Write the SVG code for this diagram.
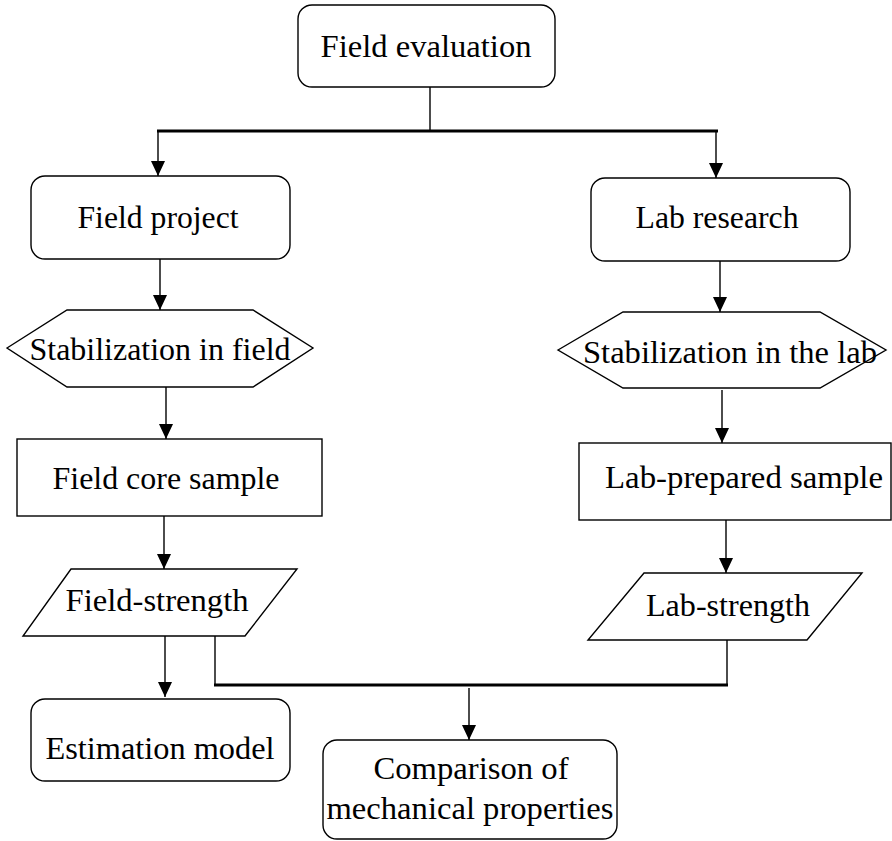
<svg xmlns="http://www.w3.org/2000/svg" width="892" height="841" viewBox="0 0 892 841">
<defs>
<marker id="ah" viewBox="0 0 15 14" refX="15" refY="7" markerWidth="15" markerHeight="14" markerUnits="userSpaceOnUse" orient="auto">
<path d="M0,0 L15,7 L0,14 Z" fill="#000"/>
</marker>
<style>
.n{fill:#fff;stroke:#000;stroke-width:1.4}
.t{font-family:"Liberation Serif","DejaVu Serif",serif;font-size:32px;fill:#000;text-anchor:middle}
.c{fill:none;stroke:#000;stroke-width:1.4}
.b{fill:none;stroke:#000;stroke-width:3}
</style>
</defs>
<rect width="892" height="841" fill="#fff"/>
<g id="connectors">
<line class="c" x1="430" y1="87" x2="430" y2="131"/>
<line class="b" x1="157" y1="131" x2="718" y2="131"/>
<line class="c" x1="158" y1="131" x2="158" y2="176" marker-end="url(#ah)"/>
<line class="c" x1="716" y1="131" x2="716" y2="178" marker-end="url(#ah)"/>
<line class="c" x1="160" y1="259" x2="160" y2="310" marker-end="url(#ah)"/>
<line class="c" x1="720" y1="261" x2="720" y2="312" marker-end="url(#ah)"/>
<line class="c" x1="166" y1="387" x2="166" y2="439" marker-end="url(#ah)"/>
<line class="c" x1="722" y1="390" x2="722" y2="443" marker-end="url(#ah)"/>
<line class="c" x1="164" y1="516" x2="164" y2="569" marker-end="url(#ah)"/>
<line class="c" x1="726" y1="520" x2="726" y2="573" marker-end="url(#ah)"/>
<line class="c" x1="165" y1="636" x2="165" y2="697" marker-end="url(#ah)"/>
<polyline class="c" points="215,636 215,685"/>
<polyline class="c" points="727,640 727,685"/>
<line class="b" x1="214" y1="685" x2="728" y2="685"/>
<line class="c" x1="469" y1="688" x2="469" y2="740" marker-end="url(#ah)"/>
</g>
<g id="field-evaluation">
<rect class="n" x="298" y="5" width="257" height="82" rx="14"/>
<text class="t" x="426" y="57" textLength="211" lengthAdjust="spacingAndGlyphs">Field evaluation</text>
</g>
<g id="field-project">
<rect class="n" x="31" y="176" width="259" height="83" rx="14"/>
<text class="t" x="158" y="228" textLength="161" lengthAdjust="spacingAndGlyphs">Field project</text>
</g>
<g id="lab-research">
<rect class="n" x="591" y="178" width="259" height="83" rx="14"/>
<text class="t" x="717" y="228" textLength="163" lengthAdjust="spacingAndGlyphs">Lab research</text>
</g>
<g id="stabilization-field">
<polygon class="n" points="7,348 67,310 253,310 313,348 253,387 67,387"/>
<text class="t" x="160" y="360" textLength="261" lengthAdjust="spacingAndGlyphs">Stabilization in field</text>
</g>
<g id="stabilization-lab">
<polygon class="n" points="558,350 623,312 820,312 886,350 820,388 623,388"/>
<text class="t" x="730" y="363" textLength="294" lengthAdjust="spacingAndGlyphs">Stabilization in the lab</text>
</g>
<g id="field-core-sample">
<rect class="n" x="17" y="439" width="305" height="77"/>
<text class="t" x="166" y="489" textLength="227" lengthAdjust="spacingAndGlyphs">Field core sample</text>
</g>
<g id="lab-prepared-sample">
<rect class="n" x="579" y="443" width="312" height="77"/>
<text class="t" x="744" y="488" textLength="278" lengthAdjust="spacingAndGlyphs">Lab-prepared sample</text>
</g>
<g id="field-strength">
<polygon class="n" points="71,569 297,569 245,636 23,636"/>
<text class="t" x="157" y="611" textLength="183" lengthAdjust="spacingAndGlyphs">Field-strength</text>
</g>
<g id="lab-strength">
<polygon class="n" points="644,573 862,573 807,640 588,640"/>
<text class="t" x="728" y="616" textLength="164" lengthAdjust="spacingAndGlyphs">Lab-strength</text>
</g>
<g id="estimation-model">
<rect class="n" x="31" y="699" width="259" height="82" rx="14"/>
<text class="t" x="160" y="759" textLength="229" lengthAdjust="spacingAndGlyphs">Estimation model</text>
</g>
<g id="comparison">
<rect class="n" x="323" y="740" width="294" height="99" rx="14"/>
<text class="t" x="471" y="779" textLength="195" lengthAdjust="spacingAndGlyphs">Comparison of</text>
<text class="t" x="470" y="819" textLength="287" lengthAdjust="spacingAndGlyphs">mechanical properties</text>
</g>
</svg>
